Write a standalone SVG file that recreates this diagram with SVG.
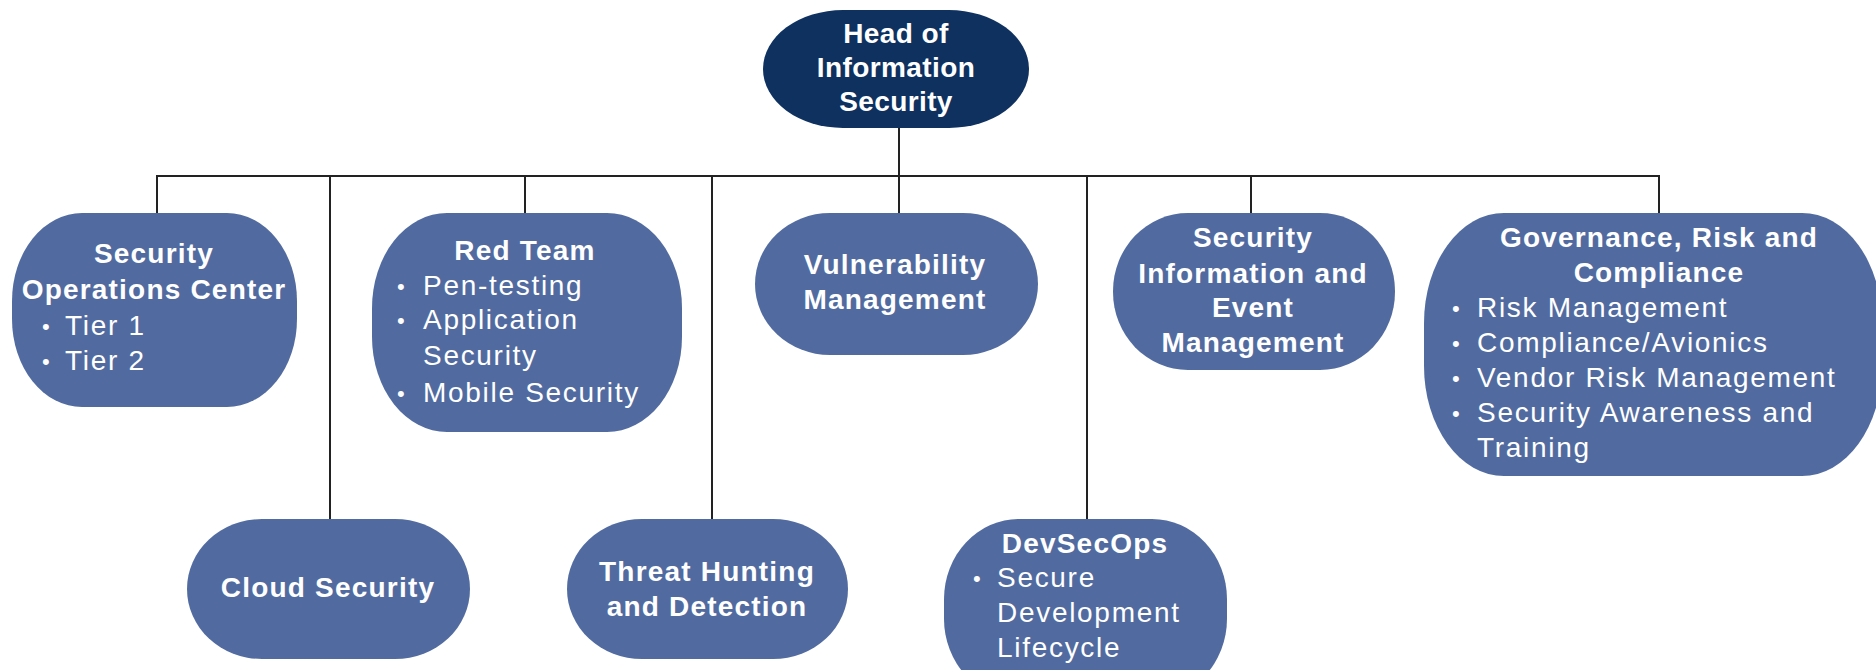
<svg xmlns="http://www.w3.org/2000/svg" width="1876" height="670" viewBox="0 0 1876 670">
<style>
  .node { fill: #516ba0; }
  .head { fill: #0e3160; }
  .conn { stroke: #222; stroke-width: 2; fill: none; }
  text { font-family: "Liberation Sans", Arial, sans-serif; fill: #ffffff; font-size: 28px; }
  .h { font-weight: bold; text-anchor: middle; letter-spacing: 1.2px; }
  .hh { letter-spacing: 0.4px; }
  .b { letter-spacing: 1.7px; }
  .d { font-size: 22px; }
</style>
<rect width="1876" height="670" fill="#ffffff"/>
<g id="connectors">
  <line class="conn" x1="899" y1="127" x2="899" y2="176"/>
  <line class="conn" x1="156" y1="176" x2="1660" y2="176"/>
  <line class="conn" x1="157" y1="175" x2="157" y2="214"/>
  <line class="conn" x1="330" y1="175" x2="330" y2="520"/>
  <line class="conn" x1="525" y1="175" x2="525" y2="214"/>
  <line class="conn" x1="712" y1="175" x2="712" y2="520"/>
  <line class="conn" x1="899" y1="175" x2="899" y2="214"/>
  <line class="conn" x1="1087" y1="175" x2="1087" y2="520"/>
  <line class="conn" x1="1251" y1="175" x2="1251" y2="214"/>
  <line class="conn" x1="1659" y1="175" x2="1659" y2="214"/>
</g>
<g id="head">
  <rect class="head" x="763" y="10" width="266" height="118" rx="80" ry="59"/>
  <text class="h hh" x="896" y="43">Head of</text>
  <text class="h hh" x="896" y="77">Information</text>
  <text class="h hh" x="896" y="111">Security</text>
</g>
<g id="soc">
  <rect class="node" x="12" y="213" width="285" height="194" rx="70" ry="88"/>
  <text class="h" x="154" y="263">Security</text>
  <text class="h" x="154" y="299">Operations Center</text>
  <text class="d" x="42" y="334">•</text><text class="b" x="65" y="335">Tier 1</text>
  <text class="d" x="42" y="369">•</text><text class="b" x="65" y="370">Tier 2</text>
</g>
<g id="redteam">
  <rect class="node" x="372" y="213" width="310" height="219" rx="75" ry="95"/>
  <text class="h" x="525" y="260">Red Team</text>
  <text class="d" x="397" y="294">•</text><text class="b" x="423" y="295">Pen-testing</text>
  <text class="d" x="397" y="328">•</text><text class="b" x="423" y="329">Application</text>
  <text class="b" x="423" y="365">Security</text>
  <text class="d" x="397" y="401">•</text><text class="b" x="423" y="402">Mobile Security</text>
</g>
<g id="vuln">
  <rect class="node" x="755" y="213" width="283" height="142" rx="75" ry="71"/>
  <text class="h" x="895" y="274">Vulnerability</text>
  <text class="h" x="895" y="309">Management</text>
</g>
<g id="siem">
  <rect class="node" x="1113" y="213" width="282" height="157" rx="75" ry="78"/>
  <text class="h" x="1253" y="247">Security</text>
  <text class="h" x="1253" y="283">Information and</text>
  <text class="h" x="1253" y="317">Event</text>
  <text class="h" x="1253" y="352">Management</text>
</g>
<g id="grc">
  <rect class="node" x="1424" y="213" width="458" height="263" rx="80" ry="110"/>
  <text class="h" x="1659" y="247">Governance, Risk and</text>
  <text class="h" x="1659" y="282">Compliance</text>
  <text class="d" x="1452" y="316">•</text><text class="b" x="1477" y="317">Risk Management</text>
  <text class="d" x="1452" y="351">•</text><text class="b" x="1477" y="352">Compliance/Avionics</text>
  <text class="d" x="1452" y="386">•</text><text class="b" x="1477" y="387">Vendor Risk Management</text>
  <text class="d" x="1452" y="421">•</text><text class="b" x="1477" y="422">Security Awareness and</text>
  <text class="b" x="1477" y="457">Training</text>
</g>
<g id="cloud">
  <rect class="node" x="187" y="519" width="283" height="140" rx="75" ry="70"/>
  <text class="h" x="328" y="597">Cloud Security</text>
</g>
<g id="threat">
  <rect class="node" x="567" y="519" width="281" height="140" rx="75" ry="70"/>
  <text class="h" x="707" y="581">Threat Hunting</text>
  <text class="h" x="707" y="616">and Detection</text>
</g>
<g id="devsecops">
  <rect class="node" x="944" y="519" width="283" height="180" rx="75" ry="80"/>
  <text class="h" x="1085" y="553">DevSecOps</text>
  <text class="d" x="973" y="586">•</text><text class="b" x="997" y="587">Secure</text>
  <text class="b" x="997" y="622">Development</text>
  <text class="b" x="997" y="657">Lifecycle</text>
</g>
</svg>
